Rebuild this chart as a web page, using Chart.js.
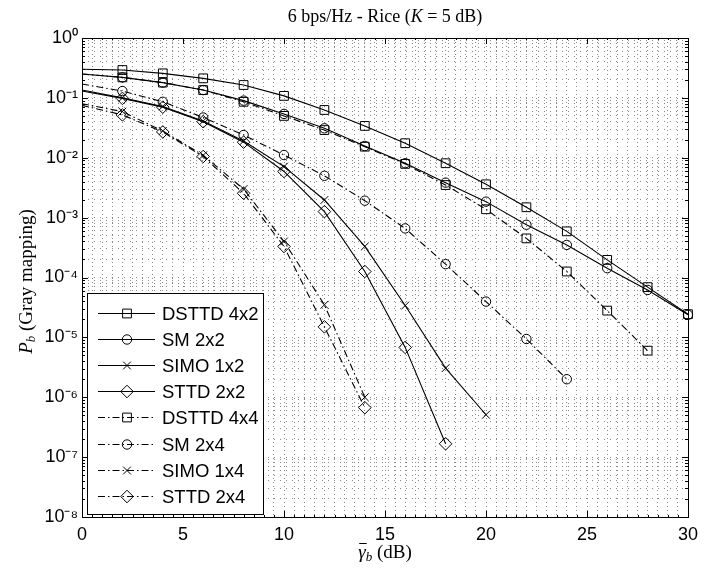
<!DOCTYPE html>
<html>
<head>
<meta charset="utf-8">
<script src="https://cdn.jsdelivr.net/npm/chart.js@4.4.1/dist/chart.umd.min.js"></script>
<style>
    html, body { margin: 0; padding: 0; background: #fff; }
</style>
</head>
<body>
<canvas id="canvasPbGray" width="724" height="569"></canvas>
<script>
// SNR en dB (eje x)
const snrDb = [0, 2, 4, 6, 8, 10, 12, 14, 16, 18, 20, 22, 24, 26, 28, 30];

// Pb (cada serie termina donde termina su curva)
const dsttd4x2 = [0.30, 0.292, 0.257, 0.212, 0.164, 0.108, 0.0628, 0.034, 0.0175, 0.0081, 0.0036, 0.00149, 5.9e-4, 1.97e-4, 6.9e-5, 2.44e-5];
const sm2x2    = [0.25, 0.22, 0.18, 0.135, 0.090, 0.054, 0.031, 0.0157, 0.0081, 0.00384, 0.00185, 7.6e-4, 3.5e-4, 1.43e-4, 6.2e-5, 2.38e-5];
const simo1x2  = [0.135, 0.100, 0.072, 0.041, 0.019, 0.0071, 0.00197, 3.3e-4, 3.4e-5, 3.06e-6, 5.1e-7];
const sttd2x2  = [0.13, 0.098, 0.070, 0.040, 0.0182, 0.0059, 0.00126, 1.26e-4, 6.8e-6, 1.67e-7];
const dsttd4x4 = [0.25, 0.22, 0.18, 0.135, 0.086, 0.050, 0.029, 0.0153, 0.0079, 0.0035, 0.00138, 4.5e-4, 1.26e-4, 2.8e-5, 6.0e-6];
const sm2x4    = [0.17, 0.13, 0.086, 0.047, 0.024, 0.0111, 0.0050, 0.00192, 6.6e-4, 1.67e-4, 3.96e-5, 9.4e-6, 2.0e-6];
const simo1x4  = [0.08, 0.059, 0.028, 0.011, 0.0030, 4.0e-4, 3.5e-5, 1.0e-6];
const sttd2x4  = [0.075, 0.052, 0.027, 0.0105, 0.00255, 3.3e-4, 1.5e-5, 6.7e-7];

const nombres = ['DSTTD 4x2', 'SM 2x2', 'SIMO 1x2', 'STTD 2x2', 'DSTTD 4x4', 'SM 2x4', 'SIMO 1x4', 'STTD 2x4'];
const series  = [dsttd4x2, sm2x2, simo1x2, sttd2x2, dsttd4x4, sm2x4, simo1x4, sttd2x4];

// etiquetas de los ejes
const xTickLabels = ['0', '5', '10', '15', '20', '25', '30'];
const yDecadas = [0, -1, -2, -3, -4, -5, -6, -7, -8];

const marcadores = ['rect', 'circle', 'crossRot', 'rectRot'];
const radios = { rect: 6.2, circle: 4.7, crossRot: 5.5, rectRot: 6.3 };
const trazoPunteado = [7, 3, 1.5, 3];
const fuenteSans = '"Liberation Sans", Arial, sans-serif';
const fuenteSerif = '"Liberation Serif", "Times New Roman", serif';

const superind = { '-': '\u207B', '0': '\u2070', '1': '\u00B9', '2': '\u00B2', '3': '\u00B3', '4': '\u2074', '5': '\u2075', '6': '\u2076', '7': '\u2077', '8': '\u2078', '9': '\u2079' };
function potencia10(e) {
    return '10' + String(e).split('').map(c => superind[c]).join('');
}

var datasets = [];
for (var i = 0; i < series.length; i++) {
    var estilo = marcadores[i % 4];
    var puntos = series[i].map((v, j) => ({ x: snrDb[j], y: v }));
    datasets.push({
        label: nombres[i],
        data: puntos,
        borderColor: '#000',
        borderWidth: 1.1,
        borderDash: i < 4 ? [] : trazoPunteado,
        pointStyle: estilo,
        pointRadius: puntos.map((p, j) => j === 0 ? 0 : radios[estilo]),
        pointHoverRadius: 0,
        pointBorderColor: '#000',
        pointBackgroundColor: 'rgba(0,0,0,0)',
        pointBorderWidth: 1,
        fill: false,
        tension: 0,
        clip: false
    });
}

// caja, marcas interiores, titulo, etiquetas y leyenda
const pluginDecoracion = {
    id: 'decoracion',
    afterDatasetsDraw(chart) {
        const ctx = chart.ctx;
        const a = chart.chartArea;
        const sx = chart.scales.x, sy = chart.scales.y;
        ctx.save();
        ctx.strokeStyle = '#000';
        ctx.lineWidth = 1;
        ctx.setLineDash([]);
        ctx.strokeRect(Math.round(a.left) + 0.5, Math.round(a.top) + 0.5, Math.round(a.right - a.left), Math.round(a.bottom - a.top));
        ctx.beginPath();
        for (var v = 0; v <= 30; v += 0.5) {
            var px = Math.round(sx.getPixelForValue(v)) + 0.5;
            var len = (v % 5 === 0) ? 6 : 2;
            ctx.moveTo(px, a.bottom); ctx.lineTo(px, a.bottom - len);
            ctx.moveTo(px, a.top); ctx.lineTo(px, a.top + len);
        }
        for (var e = -8; e <= 0; e++) {
            for (var k = 1; k <= 9; k++) {
                if (e === 0 && k > 1) break;
                var py = Math.round(sy.getPixelForValue(k * Math.pow(10, e))) + 0.5;
                var l2 = k === 1 ? 6 : 3;
                ctx.moveTo(a.left, py); ctx.lineTo(a.left + l2, py);
                ctx.moveTo(a.right, py); ctx.lineTo(a.right - l2, py);
            }
        }
        ctx.stroke();
        ctx.restore();
    },
    afterDraw(chart) {
        const ctx = chart.ctx;
        const a = chart.chartArea;
        const cx = (a.left + a.right) / 2;
        ctx.save();
        ctx.fillStyle = '#000';
        ctx.textBaseline = 'middle';

        // titulo
        var partes = [['6 bps/Hz - Rice (', '18px ' + fuenteSerif], ['K', 'italic 18px ' + fuenteSerif], [' = 5 dB)', '18px ' + fuenteSerif]];
        var ancho = 0;
        partes.forEach(p => { ctx.font = p[1]; ancho += ctx.measureText(p[0]).width; });
        var x0 = cx - ancho / 2;
        partes.forEach(p => { ctx.font = p[1]; ctx.fillText(p[0], x0, 17); x0 += ctx.measureText(p[0]).width; });

        // etiqueta x
        ctx.font = 'italic 19px ' + fuenteSerif;
        var wG = ctx.measureText('\u03B3').width;
        ctx.font = 'italic 13px ' + fuenteSerif;
        var wB = ctx.measureText('b').width;
        ctx.font = '19px ' + fuenteSerif;
        var wR = ctx.measureText(' (dB)').width;
        var xl = cx - (wG + wB + wR) / 2, yl = 553;
        ctx.font = 'italic 19px ' + fuenteSerif;
        ctx.fillText('\u03B3', xl, yl);
        ctx.fillRect(xl + 1, yl - 10, wG, 1);
        ctx.font = 'italic 13px ' + fuenteSerif;
        ctx.fillText('b', xl + wG, yl + 5);
        ctx.font = '19px ' + fuenteSerif;
        ctx.fillText(' (dB)', xl + wG + wB, yl);

        // etiqueta y
        ctx.translate(27, (a.top + a.bottom) / 2 + 4);
        ctx.rotate(-Math.PI / 2);
        ctx.font = 'italic 19px ' + fuenteSerif;
        var wP = ctx.measureText('P').width;
        ctx.font = 'italic 13px ' + fuenteSerif;
        var wb = ctx.measureText('b').width;
        ctx.font = '19px ' + fuenteSerif;
        var wT = ctx.measureText(' (Gray mapping)').width;
        var yx = -(wP + wb + wT) / 2;
        ctx.font = 'italic 19px ' + fuenteSerif;
        ctx.fillText('P', yx, 0);
        ctx.font = 'italic 13px ' + fuenteSerif;
        ctx.fillText('b', yx + wP, 5);
        ctx.font = '19px ' + fuenteSerif;
        ctx.fillText(' (Gray mapping)', yx + wP + wb, 0);
        ctx.restore();

        // leyenda
        ctx.save();
        var lx = 87, ly = 293, lw = 176, lh = 221;
        ctx.fillStyle = '#fff';
        ctx.fillRect(lx, ly, lw, lh);
        ctx.strokeStyle = '#000';
        ctx.lineWidth = 1;
        ctx.strokeRect(lx + 0.5, ly + 0.5, lw, lh);
        chart.data.datasets.forEach((ds, n) => {
            var y = Math.round(ly + 20 + n * 26.1) + 0.5;
            ctx.setLineDash(ds.borderDash);
            ctx.beginPath();
            ctx.moveTo(lx + 11, y);
            ctx.lineTo(lx + 68, y);
            ctx.stroke();
            ctx.setLineDash([]);
            ctx.fillStyle = 'rgba(0,0,0,0)';
            Chart.helpers.drawPoint(ctx, { pointStyle: ds.pointStyle, radius: radios[ds.pointStyle], borderWidth: 1, rotation: 0 }, lx + 40, y);
            ctx.fillStyle = '#000';
            ctx.font = '18.5px ' + fuenteSans;
            ctx.textBaseline = 'middle';
            ctx.fillText(ds.label, lx + 75, y + 1);
        });
        ctx.restore();
    }
};

var ctx = document.getElementById('canvasPbGray').getContext('2d');
var graficaPb = new Chart(ctx, {
    type: 'line',
    data: { datasets: datasets },
    plugins: [pluginDecoracion],
    options: {
        responsive: false,
        animation: false,
        devicePixelRatio: 1,
        layout: { padding: { left: 0, right: 36, top: 38, bottom: 0 } },
        plugins: { legend: { display: false }, title: { display: false }, tooltip: { enabled: false } },
        scales: {
            x: {
                type: 'linear',
                min: 0,
                max: 30,
                afterBuildTicks: function (scale) {
                    var t = [];
                    for (var v = 0; v <= 60; v++) t.push({ value: v / 2 });
                    scale.ticks = t;
                },
                afterFit: function (scale) { scale.height = 52; },
                ticks: {
                    autoSkip: false,
                    maxRotation: 0,
                    padding: 7,
                    color: '#000',
                    font: { family: fuenteSans, size: 18 },
                    callback: function (v) { return xTickLabels.indexOf(String(v)) >= 0 ? String(v) : ''; }
                },
                grid: { color: '#8a8a8a', lineWidth: 1, drawTicks: false },
                border: { display: false, dash: [1, 3] }
            },
            y: {
                type: 'logarithmic',
                min: 1e-8,
                max: 1,
                afterBuildTicks: function (scale) {
                    var t = [];
                    for (var e = -8; e <= 0; e++) {
                        for (var k = 1; k <= 9; k++) {
                            if (e === 0 && k > 1) break;
                            t.push({ value: k * Math.pow(10, e) });
                        }
                    }
                    scale.ticks = t;
                },
                afterFit: function (scale) { scale.width = 82; },
                ticks: {
                    autoSkip: false,
                    padding: 4,
                    color: '#000',
                    font: { family: fuenteSans, size: 18 },
                    callback: function (v) {
                        var e = Math.round(Math.log10(v));
                        if (Math.abs(Math.log10(v) - e) < 1e-6 && yDecadas.indexOf(e) >= 0) return potencia10(e);
                        return '';
                    }
                },
                grid: { color: '#8a8a8a', lineWidth: 1, drawTicks: false },
                border: { display: false, dash: [1, 5] }
            }
        }
    }
});
</script>
</body>
</html>
